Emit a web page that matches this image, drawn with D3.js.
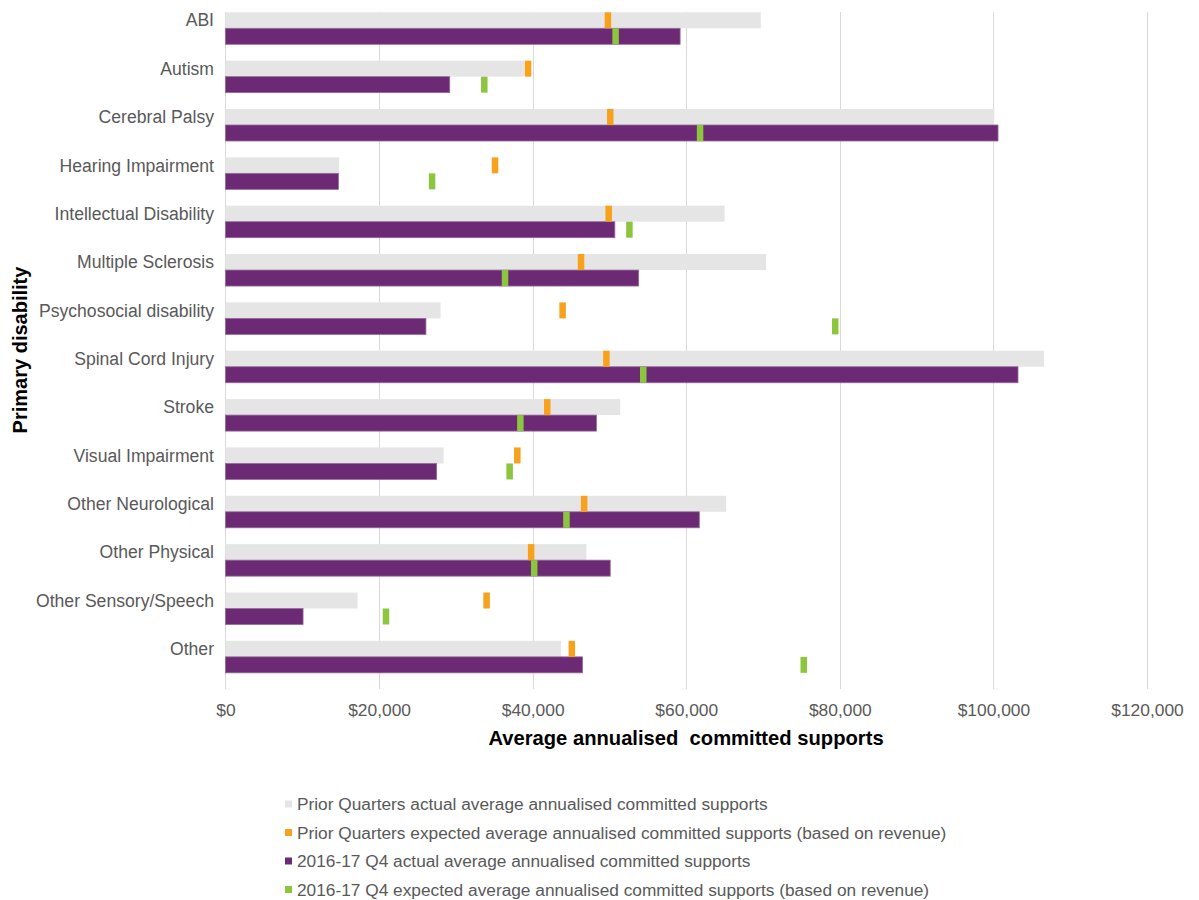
<!DOCTYPE html>
<html>
<head>
<meta charset="utf-8">
<script src="https://cdn.jsdelivr.net/npm/d3@7"></script>
<style>
  html, body { margin: 0; padding: 0; background: #ffffff; }
  svg { display: block; font-family: "Liberation Sans", Arial, sans-serif; }
</style>
</head>
<body>
<svg id="chart" width="1199" height="900"></svg>
<script>
const categories = ["ABI", "Autism", "Cerebral Palsy", "Hearing Impairment", "Intellectual Disability",
  "Multiple Sclerosis", "Psychosocial disability", "Spinal Cord Injury", "Stroke", "Visual Impairment",
  "Other Neurological", "Other Physical", "Other Sensory/Speech", "Other"];
const priorActual   = [69700, 38900, 100100, 14800, 65000, 70400, 28000, 106600, 51400, 28400, 65200, 47000, 17200, 43700];
const priorExpected = [49800, 39400, 50100, 35100, 49900, 46300, 43900, 49600, 41900, 38000, 46700, 39800, 34000, 45100];
const q4Actual      = [59200, 29200, 100600, 14700, 50700, 53800, 26100, 103200, 48300, 27500, 61700, 50100, 10100, 46500];
const q4Expected    = [50800, 33700, 61800, 26900, 52600, 36400, 79400, 54400, 38400, 37000, 44400, 40200, 20900, 75300];
const xTicks = [0, 20000, 40000, 60000, 80000, 100000, 120000];
const legendLabels = [
  "Prior Quarters actual average annualised committed supports",
  "Prior Quarters expected average annualised committed supports (based on revenue)",
  "2016-17 Q4 actual average annualised committed supports",
  "2016-17 Q4 expected average annualised committed supports (based on revenue)"
];
const colors = ["#e5e5e5", "#f8a11c", "#6b2a73", "#8cc63f"];

const svg = d3.select("#chart");
const x = d3.scaleLinear().domain([0, 120000]).range([225.5, 1147]);
const y = d3.scaleBand().domain(categories).range([12.3, 689.2]).padding(0);
const barH = 16;
const markW = 6.5;

// gridlines
svg.append("g").selectAll("line").data(xTicks.slice(1)).join("line")
  .attr("x1", d => Math.round(x(d)) + 0.5).attr("x2", d => Math.round(x(d)) + 0.5)
  .attr("y1", 12).attr("y2", 689)
  .attr("stroke", "#d9d9d9").attr("stroke-width", 1);
// vertical axis line
svg.append("line").attr("x1", 225.5).attr("x2", 225.5).attr("y1", 12).attr("y2", 689)
  .attr("stroke", "#d9d9d9");

const rows = categories.map((c, i) => ({ c, pa: priorActual[i], pe: priorExpected[i], qa: q4Actual[i], qe: q4Expected[i] }));

// prior actual bars
svg.append("g").selectAll("rect").data(rows).join("rect")
  .attr("x", x(0)).attr("y", d => y(d.c))
  .attr("width", d => x(d.pa) - x(0)).attr("height", barH)
  .attr("fill", colors[0]);
// q4 actual bars
svg.append("g").selectAll("rect").data(rows).join("rect")
  .attr("x", x(0)).attr("y", d => y(d.c) + barH)
  .attr("width", d => x(d.qa) - x(0)).attr("height", barH)
  .attr("fill", colors[2]).attr("stroke", "#95699b").attr("stroke-width", 0.8);
// prior expected markers
svg.append("g").selectAll("rect").data(rows).join("rect")
  .attr("x", d => x(d.pe) - markW / 2).attr("y", d => y(d.c))
  .attr("width", markW).attr("height", barH)
  .attr("fill", colors[1]);
// q4 expected markers
svg.append("g").selectAll("rect").data(rows).join("rect")
  .attr("x", d => x(d.qe) - markW / 2).attr("y", d => y(d.c) + barH)
  .attr("width", markW).attr("height", barH)
  .attr("fill", colors[3]);

// x axis
const xAxis = svg.append("g").attr("transform", "translate(0,689)")
  .call(d3.axisBottom(x).tickValues(xTicks).tickSize(0).tickFormat(d => "$" + d3.format(",")(d)));
xAxis.select(".domain").remove();
xAxis.selectAll("text").attr("y", 27).attr("dy", 0)
  .attr("fill", "#595959").style("font-size", "17.4px").style("font-family", "'Liberation Sans', Arial, sans-serif");

// y axis
const yAxis = svg.append("g").attr("transform", "translate(225,0)")
  .call(d3.axisLeft(y).tickSize(0).tickPadding(11));
yAxis.select(".domain").remove();
yAxis.selectAll("text").attr("dy", "0.35em").attr("y", -y.bandwidth() / 2 + 8)
  .attr("fill", "#595959").style("font-size", "17.6px").style("font-family", "'Liberation Sans', Arial, sans-serif");

// axis titles
svg.append("text").attr("x", 686).attr("y", 745).attr("text-anchor", "middle")
  .style("font-size", "20.2px").style("font-weight", "bold").style("white-space", "pre").attr("fill", "#000")
  .text("Average annualised  committed supports");
svg.append("text").attr("transform", "translate(27,350) rotate(-90)").attr("text-anchor", "middle")
  .style("font-size", "20px").style("font-weight", "bold").attr("fill", "#000")
  .text("Primary disability");

// legend
const legendY = [804, 832.5, 861, 889.5];
const lg = svg.append("g").selectAll("g").data(legendLabels).join("g")
  .attr("transform", (d, i) => `translate(285,${legendY[i]})`);
lg.append("rect").attr("x", 0).attr("y", -3.5).attr("width", 7).attr("height", 7)
  .attr("fill", (d, i) => colors[i]);
lg.append("text").attr("x", 12).attr("y", 0).attr("dy", "0.35em")
  .style("font-size", "17.3px").attr("fill", "#595959").text(d => d);
</script>
</body>
</html>
